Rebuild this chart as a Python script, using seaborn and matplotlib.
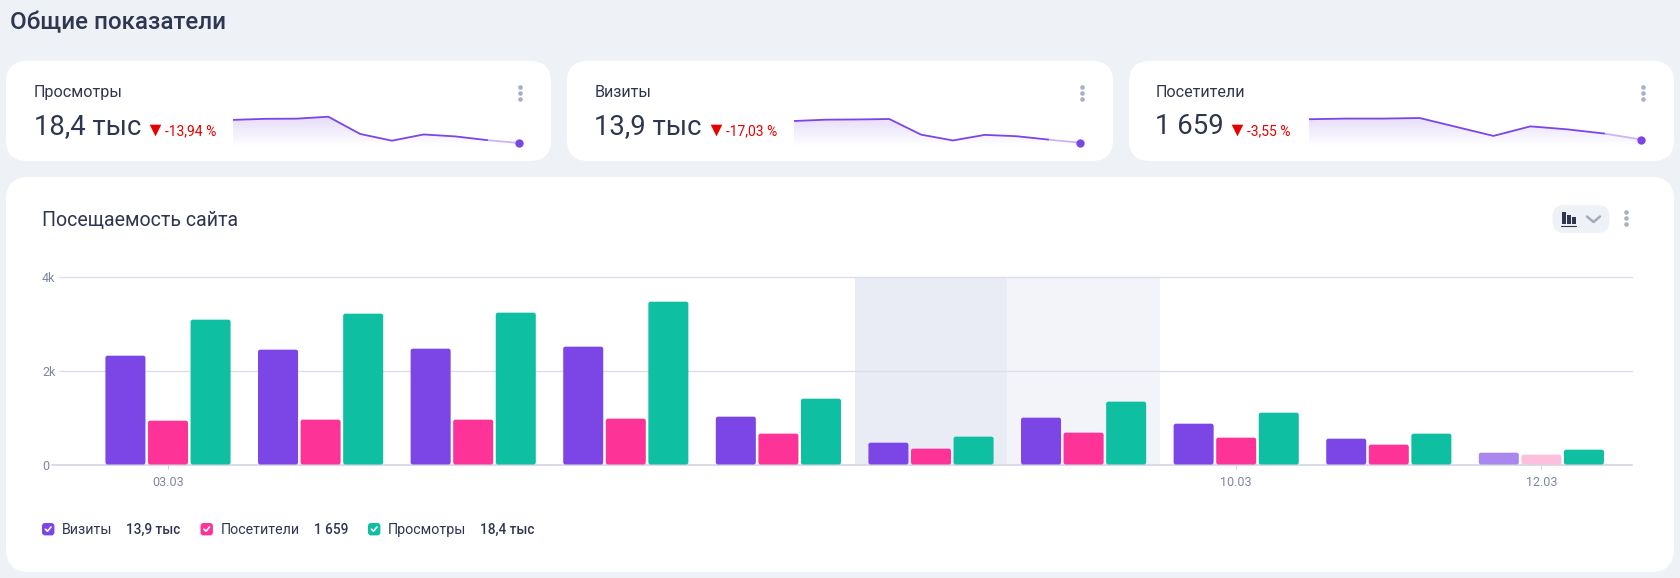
import matplotlib
matplotlib.use("Agg")
import matplotlib.pyplot as plt
import numpy as np
import pandas as pd
import seaborn as sns
from matplotlib.colors import LinearSegmentedColormap
from matplotlib.patches import FancyBboxPatch

W, H = 1681, 578

days = ["03.03", "04.03", "05.03", "06.03", "07.03", "08.03", "09.03", "10.03", "11.03", "12.03"]
visits = [2326, 2454, 2475, 2518, 1028, 475, 1007, 879, 560, 262]
visitors = [943, 965, 965, 986, 667, 348, 688, 582, 433, 220]
views = [3092, 3220, 3241, 3475, 1411, 603, 1348, 1113, 667, 326]

y_ticks = [0, 2000, 4000]
y_tick_labels = ["0", "2k", "4k"]
x_tick_days = ["03.03", "10.03", "12.03"]

PURPLE = "#7c45e6"
PINK = "#fe3397"
GREEN = "#0ebfa1"
INK = "#2e3650"
GREY = "#7f879e"
DOTS = "#a9b0c6"
BG = "#eef1f6"
RED = "#e60000"

sns.set_theme(style="white")
plt.rcParams["font.family"] = ["Roboto", "DejaVu Sans"]

fig = plt.figure(figsize=(W / 100, H / 100), dpi=100, facecolor=BG)


def px_axes(x0, y0, x1, y1, zorder=1):
    # axes from pixel box, y counted from the top
    ax = fig.add_axes([x0 / W, 1 - y1 / H, (x1 - x0) / W, (y1 - y0) / H], zorder=zorder)
    ax.patch.set_alpha(0)
    return ax


# background layer in pixel coordinates
bg = fig.add_axes([0, 0, 1, 1], zorder=0)
bg.set_xlim(0, W)
bg.set_ylim(H, 0)
bg.axis("off")


def box(x0, y0, x1, y1, r, color, ax=bg, z=1):
    p = FancyBboxPatch((x0 + r, y0 + r), x1 - x0 - 2 * r, y1 - y0 - 2 * r,
                       boxstyle=f"round,pad={r},rounding_size={r}",
                       fc=color, ec="none", zorder=z)
    ax.add_patch(p)


def menu_dots(x, y):
    bg.scatter([x, x, x], [y - 6, y, y + 6], s=11, color=DOTS, linewidths=0, zorder=3)


bg.text(10, 23, "Общие показатели", fontsize=17.4, fontweight="medium", color=INK, va="center")

box(6, 61, 551, 161, 21, "white")
box(567, 61, 1113, 161, 21, "white")
box(1129, 61, 1674, 161, 21, "white")
box(6, 177, 1674, 572, 23, "white")

# metric cards: x of text, delta marker, delta text, sparkline
cards = [
    ("Просмотры", "18,4 тыс", "-13,94 %", 34, 155.5, 165.5, 233, 519, views, 116.7, 143, 520),
    ("Визиты", "13,9 тыс", "-17,03 %", 594.5, 716, 726, 794, 1080, visits, 119, 142.7, 1082),
    ("Посетители", "1 659", "-3,55 %", 1155.5, 1237.5, 1247.5, 1309, 1641, visitors, 118, 139.5, 1643),
]

fade = LinearSegmentedColormap.from_list("fade", ["#e4d9f9", "#ffffff"])
SP_TOP, SP_BOTTOM = 114, 146

for name, total, delta, tx, mx, dx, sx0, sx1, vals, top_px, low_px, dots_x in cards:
    bg.text(tx, 92.5, name, fontsize=11.6, color=INK, va="center")
    bg.text(tx, 127, total, fontsize=19.8, color=INK, va="center")
    bg.scatter([mx], [129.5], marker="v", s=70, color=RED, linewidths=0, zorder=3)
    bg.text(dx, 131, delta, fontsize=10, color=RED, va="center")
    menu_dots(dots_x, 93)

    ax = px_axes(sx0, SP_TOP, sx1, SP_BOTTOM, zorder=2)
    idx = np.arange(len(vals))
    per_px = (max(vals) - min(vals)) / (low_px - top_px)
    y_hi = max(vals) + (top_px - SP_TOP) * per_px
    y_lo = min(vals) - (SP_BOTTOM - low_px) * per_px
    shade = ax.fill_between(idx, vals, y_lo, color="none")
    img = ax.imshow(np.linspace(0, 1, 64).reshape(-1, 1), cmap=fade, aspect="auto",
                    extent=[0, 9, y_lo, y_hi], zorder=1)
    img.set_clip_path(shade.get_paths()[0], transform=ax.transData)
    sns.lineplot(x=idx[:9], y=vals[:9], ax=ax, color=PURPLE, linewidth=1.3, errorbar=None, zorder=3)
    sns.lineplot(x=idx[8:], y=vals[8:], ax=ax, color="#cbb6f4", linewidth=1.3, errorbar=None, zorder=2)
    ax.scatter([idx[-1]], [vals[-1]], s=36, color=PURPLE, linewidths=0, zorder=4, clip_on=False)
    ax.set_xlim(0, 9)
    ax.set_ylim(y_lo, y_hi)
    ax.axis("off")

# main card header
bg.text(42, 220.5, "Посещаемость сайта", fontsize=14.1, color=INK, va="center")
box(1552.5, 205, 1609.5, 233, 12, BG)
for bx, btop in [(1562, 212), (1567.2, 215), (1572.3, 217)]:
    bg.fill_between([bx, bx + 4], [btop, btop], [224, 224], color=INK, linewidth=0, zorder=3)
bg.plot([1561.5, 1576.5], [225.6, 225.6], color=INK, lw=0.8, zorder=3)
bg.plot([1587, 1593.5, 1600], [216.5, 222, 216.5], color="#a4abc0", lw=1.8, zorder=3)
menu_dots(1626.5, 218)

# bar chart
df = pd.DataFrame({"day": days, "Визиты": visits, "Посетители": visitors, "Просмотры": views})
long_df = df.melt(id_vars="day", var_name="metric", value_name="value")

X0, X1 = 52, 1632
Y0, Y1 = 277, 465
STEP = 152.6
chart = px_axes(X0, Y0, X1, Y1, zorder=1)
sns.barplot(data=long_df, x="day", y="value", hue="metric",
            hue_order=["Визиты", "Посетители", "Просмотры"],
            palette=[PURPLE, PINK, GREEN], saturation=1, width=0.837, gap=0.06,
            legend=False, ax=chart, zorder=3)

x_lo = (X0 - 168) / STEP
x_hi = (X1 - 168) / STEP
chart.set_xlim(x_lo, x_hi)
chart.set_ylim(0, 4000)

# round the bar corners, radius in pixels
radius = 2.2
r_x = radius / STEP
aspect = (4000 / (Y1 - Y0)) * STEP
for cont in chart.containers:
    for i, bar in enumerate(cont):
        color = bar.get_facecolor()
        if i == len(days) - 1 and cont is not chart.containers[2]:
            color = "#a987ef" if cont is chart.containers[0] else "#fcc0de"
        bar.set_visible(False)
        bx, bw, bh = bar.get_x(), bar.get_width(), bar.get_height()
        lift = 0.5 * 4000 / (Y1 - Y0)
        chart.add_patch(FancyBboxPatch((bx, lift), bw, bh - lift,
                                       boxstyle=f"round,pad=0,rounding_size={r_x}",
                                       mutation_aspect=aspect, fc=color, ec="none", zorder=3))

# highlighted weekend bands
chart.axvspan(4.5, 5.5, color="#e9ecf5", linewidth=0, zorder=0)
chart.axvspan(5.5, 6.5, color="#f3f4f9", linewidth=0, zorder=0)

grid_from = (59 - X0) / (X1 - X0)
for tick in y_ticks[1:]:
    chart.axhline(tick, xmin=grid_from, color="#dcdeea", linewidth=1, zorder=1, clip_on=False)
chart.axhline(0, color="#d8dae8", linewidth=1.4, zorder=2, clip_on=False)

sns.despine(ax=chart, left=True, bottom=True, top=True, right=True)
chart.set_xlabel("")
chart.set_ylabel("")
chart.set_yticks(y_ticks, y_tick_labels)
chart.set_xticks([days.index(d) for d in x_tick_days], x_tick_days)
chart.tick_params(axis="y", length=0, pad=7.2, labelsize=9, labelcolor=GREY)
chart.tick_params(axis="x", length=3.2, width=0.7, color="#cfd2df", pad=4.6, labelsize=9, labelcolor=GREY, bottom=True)
for lab in chart.get_yticklabels():
    lab.set_horizontalalignment("left")

# legend row
legend_items = [
    (42, PURPLE, "Визиты", 62, "13,9 тыс", 126.5),
    (200.5, PINK, "Посетители", 220.7, "1 659", 314),
    (368, GREEN, "Просмотры", 388, "18,4 тыс", 480),
]
for bx, color, label, lx, value, vx in legend_items:
    box(bx, 523, bx + 12.4, 535.4, 3, color, z=2)
    bg.plot([bx + 3.4, bx + 5.5, bx + 9], [529.2, 531.2, 527], color="white", lw=1.2, zorder=3)
    bg.text(lx, 530, label, fontsize=10.3, color=INK, va="center")
    bg.text(vx, 530, value, fontsize=9.8, fontweight="medium", color=INK, va="center")

fig.savefig("out.png", dpi=100, facecolor=BG)
